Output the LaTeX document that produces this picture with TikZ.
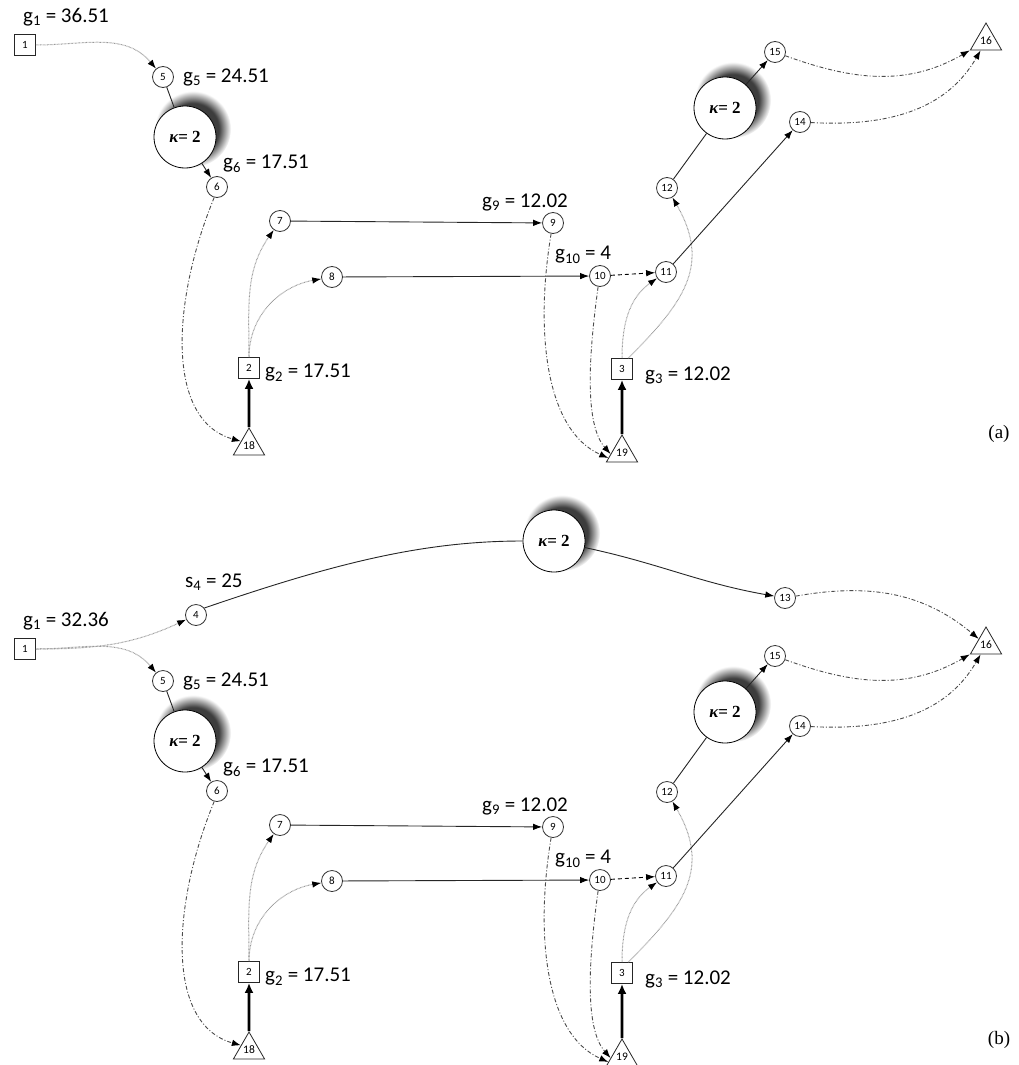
\documentclass[tikz,border=0pt]{standalone}
\usepackage{fontspec}
\setmainfont{Carlito}
\newfontfamily\tnrfont{Liberation Serif}
\usetikzlibrary{arrows.meta,shapes.geometric}
\definecolor{kshc}{gray}{0.24}
\pgfdeclareradialshading{kshadow}{\pgfpoint{0bp}{0bp}}{color(0bp)=(kshc); color(17bp)=(kshc); color(25bp)=(white); color(50bp)=(white)}
\newcommand{\kaptext}{{\itshape κ}= 2}
\newcommand{\panelcommon}[1]{%
 \node[kshad] (#1s1) at (193,-129) {};
 \node[kshad] (#1s2) at (733,-100) {};
 \node[sq] (#1n1) at (25,-45) {1};
 \node[circ] (#1n5) at (163,-77) {5};
 \node[kap] (#1k1) at (185,-137) {\kaptext};
 \node[circ] (#1n6) at (217,-187) {6};
 \node[circ] (#1n7) at (280,-221) {7};
 \node[circ] (#1n8) at (332,-277) {8};
 \node[circ] (#1n9) at (553,-223) {9};
 \node[circ] (#1n10) at (600,-276) {10};
 \node[circ] (#1n11) at (666,-272) {11};
 \node[circ] (#1n12) at (667,-188) {12};
 \node[kap] (#1k2) at (725,-108) {\kaptext};
 \node[circ] (#1n15) at (775,-52) {15};
 \node[circ] (#1n14) at (800,-122) {14};
 \node[tri] (#1n16) at (986,-41) {16};
 \node[sq] (#1n2) at (249,-368) {2};
 \node[tri] (#1n18) at (249,-446) {18};
 \node[sq] (#1n3) at (622,-369) {3};
 \node[tri] (#1n19) at (622,-453) {19};
 \node[lab] (#1L5) at (183,-77) {g\textsubscript{5} = 24.51};
 \node[lab] (#1L6) at (223,-164) {g\textsubscript{6} = 17.51};
 \node[lab] (#1L9) at (482,-202) {g\textsubscript{9} = 12.02};
 \node[lab] (#1L10) at (555,-255) {g\textsubscript{10} = 4};
 \node[lab] (#1L2) at (265,-373) {g\textsubscript{2} = 17.51};
 \node[lab] (#1L3) at (645,-375) {g\textsubscript{3} = 12.02};
 \draw[dotl] (#1n1) to[out=0,in=130] (#1n5);
 \draw[sline] (#1n5) -- (#1k1);
 \draw[sarr] (#1k1) -- (#1n6);
 \draw[ddline] (#1n6.255) .. controls (172,-300) and (165,-420) .. (#1n18.150);
 \draw[dotl] (#1n2.north) to[out=90,in=235] (#1n7);
 \draw[dotl] (#1n2.north) to[out=90,in=190] (#1n8);
 \draw[sarr] (#1n7) -- (#1n9);
 \draw[sarr] (#1n8) -- (#1n10);
 \draw[dline] (#1n10) -- (#1n11);
 \draw[ddline] (#1n9.260) .. controls (535,-330) and (545,-430) .. (#1n19.200);
 \draw[ddline] (#1n10.260) .. controls (588,-360) and (585,-425) .. (#1n19.185);
 \draw[thickarr] (#1n18) -- (#1n2);
 \draw[thickarr] (#1n19) -- (#1n3);
 \draw[dotl] (#1n3.north) to[out=90,in=215] (#1n11);
 \draw[dotl] (#1n3.60) to[out=45,in=-60,looseness=1.2] (#1n12);
 \draw[sarr] (#1n11) -- (#1n14);
 \draw[sline] (#1n12) -- (#1k2);
 \draw[sarr] (#1k2) -- (#1n15);
 \draw[ddline] (#1n15) to[out=-20,in=210] (#1n16);
 \draw[ddline] (#1n14) to[out=-3,in=240] (#1n16);
}
\begin{document}
\begin{tikzpicture}[x=1pt,y=1pt,
  circ/.style={circle,draw=black!80,line width=0.8pt,fill=white,minimum size=21pt,inner sep=0pt,font=\fontsize{11}{12}\selectfont},
  sq/.style={rectangle,draw=black!85,line width=0.8pt,fill=white,minimum size=21pt,inner sep=0pt,font=\fontsize{11}{12}\selectfont},
  tri/.style={regular polygon,regular polygon sides=3,draw=black!85,line width=0.8pt,fill=white,minimum size=36pt,inner sep=0pt,font=\fontsize{11.5}{12}\selectfont},
  kshad/.style={circle,minimum size=76pt,inner sep=0pt,shade,shading=kshadow},
  kap/.style={circle,draw=black,line width=0.8pt,fill=white,minimum size=62pt,inner sep=0pt,font=\tnrfont\bfseries\fontsize{17}{20}\selectfont},
  lab/.style={anchor=west,inner sep=0pt,font=\fontsize{21}{24}\selectfont},
  arrowtip/.style={-{Latex[length=9pt,width=6.5pt,color=black]}},
  dotl/.style={arrowtip,draw=black!40,line width=1pt,dash pattern=on 0.7pt off 0.7pt},
  ddline/.style={arrowtip,draw=black!70,line width=0.9pt,dash pattern=on 4pt off 2pt on 1pt off 2pt},
  sline/.style={draw=black!85,line width=0.9pt},
  sarr/.style={sline,arrowtip},
  dline/.style={arrowtip,draw=black,line width=0.9pt,dash pattern=on 4pt off 3pt},
  thickarr/.style={draw=black,line width=2.8pt,-{Latex[length=10pt,width=9pt]}},
  plabel/.style={font=\tnrfont\fontsize{19}{22}\selectfont}
]
\useasboundingbox (0,0) rectangle (1018,-1065);
\fill[white] (0,0) rectangle (1018,-1065);
% panel (a)
\panelcommon{a}
\node[lab] (aL1) at (23,-17) {g\textsubscript{1} = 36.51};
\node[plabel] (labA) at (999,-434) {(a)};
% panel (b)
\begin{scope}[yshift=-604pt]
\panelcommon{b}
\end{scope}
\node[lab] (bL1) at (23,-621) {g\textsubscript{1} = 32.36};
\node[circ] (bn4) at (196,-615) {4};
\node[kshad] (bs3) at (562,-533) {};
\node[kap] (bk3) at (554,-541) {\kaptext};
\node[circ] (bn13) at (785,-598) {13};
\node[lab] (bL4) at (185,-582) {s\textsubscript{4} = 25};
\draw[dotl] (bn1) to[out=0,in=205] (bn4);
\draw[sline] (bn4.40) .. controls (330,-565) and (420,-541) .. (bk3.180);
\draw[sarr] (bk3) to[out=-12,in=170] (bn13);
\draw[ddline] (bn13) to[out=10,in=140] (bn16);
\node[plabel] (labB) at (999,-1040) {(b)};
\end{tikzpicture}
\end{document}
